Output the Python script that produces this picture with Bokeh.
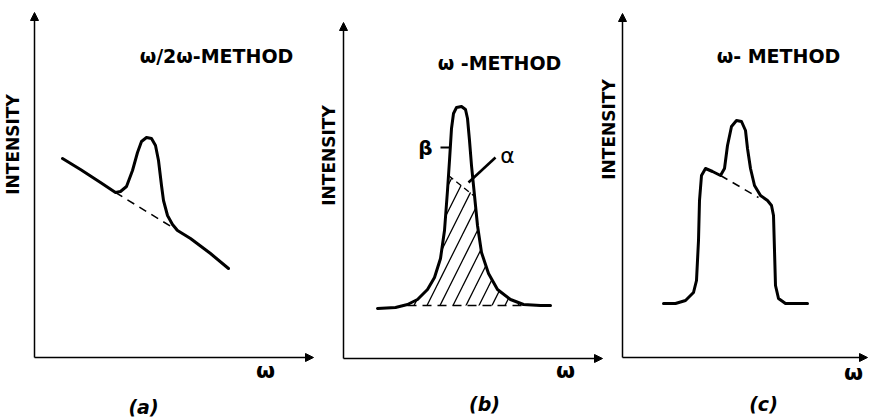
import math
from bokeh.plotting import figure
from bokeh.models import Arrow, NormalHead
from bokeh.core.properties import value
from bokeh.embed import file_html
from bokeh.resources import INLINE

# ---------------- data (panel-local: omega, intensity) ----------------
# panel (a): omega/2omega method
a_omega = [28, 46, 66, 81, 86, 92, 98, 103, 107, 112, 117, 121, 124, 127, 129, 133, 138, 143, 156, 176, 194]
a_int = [199, 188, 175, 165, 166, 171, 187, 205, 216, 220, 219, 212, 197, 172, 157, 142, 133, 127, 119, 104, 89]
a_base_omega = [81, 143]
a_base_int = [165, 127]

# panel (b): omega method, lorentzian-like peak
b_omega = [34, 52, 64, 74, 84, 91, 97, 101, 104, 106, 108, 110, 113, 118, 122, 124, 126, 128, 131, 134, 138, 145, 154, 167, 180, 197, 207]
b_int = [50, 51, 54, 59, 69, 81, 100, 128, 168, 198, 230, 245, 251, 252, 249, 240, 218, 193, 163, 133, 106, 85, 69, 59, 54, 53, 53]
b_hatch_omega = [64, 74, 84, 91, 97, 101, 104, 105, 131, 134, 138, 145, 154, 167, 180]
b_hatch_int = [53, 59, 69, 81, 100, 128, 168, 183, 163, 133, 106, 85, 69, 59, 53]
b_base_omega = [64, 180]
b_base_int = [53, 53]
b_top_omega = [105, 130]
b_top_int = [183, 163]
b_alpha_ptr_omega = [152, 125]
b_alpha_ptr_int = [201, 176]
b_beta_tick_omega = [97, 106]
b_beta_tick_int = [211, 211]

# panel (c): omega method, broad plateau with peak
c_omega = [41, 53, 63, 71, 74, 76, 77, 79, 83, 90, 98, 102, 105, 109, 114, 119, 123, 125, 128, 132, 138, 145, 149, 151, 152, 153, 156, 163, 178, 185]
c_int = [54, 54, 57, 65, 77, 117, 157, 182, 189, 186, 182, 189, 212, 231, 237, 236, 227, 209, 189, 172, 162, 157, 152, 142, 107, 72, 59, 54, 54, 54]
c_base_omega = [98, 136]
c_base_int = [182, 160]

titles = ["ω/2ω-METHOD", "ω -METHOD", "ω- METHOD"]
panel_tags = ["(a)", "(b)", "(c)"]
y_label = "INTENSITY"
x_label = "ω"

# ---------------- layout ----------------
W, H = 869, 417
origins = [(34, 60), (343, 59), (622, 60)]
y_axis_len = [345, 336, 344]
x_axis_len = [279, 259, 245]
title_pos = [(216, 362), (499, 355), (778, 362)]
ylab_pos = [(12, 273), (328, 262), (608, 288)]
xlab_pos = [(265, 47), (565, 47), (853, 45)]
tag_pos = [(143, 11), (484, 14), (763, 14)]

FONT = value("DejaVu Sans")

p = figure(width=W, height=H, x_range=(0, W), y_range=(0, H),
           output_backend="svg", toolbar_location=None,
           min_border=0, border_fill_color="white", background_fill_color="white")
p.axis.visible = False
p.grid.visible = False
p.outline_line_color = None


def sh(vals, off):
    return [v + off for v in vals]


# axes as arrows
for (ox, oy), yl, xl in zip(origins, y_axis_len, x_axis_len):
    p.add_layout(Arrow(end=NormalHead(size=8, fill_color="black", line_color="black"),
                       x_start=ox, y_start=oy, x_end=ox, y_end=oy + yl,
                       line_width=1.5, line_color="black"))
    p.add_layout(Arrow(end=NormalHead(size=8, fill_color="black", line_color="black"),
                       x_start=ox, y_start=oy, x_end=ox + xl, y_end=oy,
                       line_width=1.5, line_color="black"))

# panel a
ox, oy = origins[0]
p.line(sh(a_omega, ox), sh(a_int, oy), line_width=3, line_color="black", line_join="round", line_cap="round")
p.line(sh(a_base_omega, ox), sh(a_base_int, oy), line_width=1.5, line_color="black", line_dash="8 6")

# panel b
ox, oy = origins[1]
p.patch(sh(b_hatch_omega, ox), sh(b_hatch_int, oy), fill_alpha=0, line_alpha=0,
        hatch_pattern="/", hatch_color="black", hatch_scale=26, hatch_weight=1.3)
p.line(sh(b_base_omega, ox), sh(b_base_int, oy), line_width=1.5, line_color="black", line_dash="9 6")
p.line(sh(b_top_omega, ox), sh(b_top_int, oy), line_width=1.4, line_color="black", line_dash="6 4")
p.line(sh(b_omega, ox), sh(b_int, oy), line_width=3, line_color="black", line_join="round", line_cap="round")
p.line(sh(b_alpha_ptr_omega, ox), sh(b_alpha_ptr_int, oy), line_width=2.6, line_color="black")
p.line(sh(b_beta_tick_omega, ox), sh(b_beta_tick_int, oy), line_width=1.8, line_color="black")
p.text(x=[ox + 82], y=[oy + 211], text=["β"], text_font=FONT, text_font_size="20px",
       text_font_style="bold", text_align="center", text_baseline="middle", text_color="black")
p.text(x=[ox + 164], y=[oy + 203], text=["α"], text_font=FONT, text_font_size="22px",
       text_align="center", text_baseline="middle", text_color="black")

# panel c
ox, oy = origins[2]
p.line(sh(c_omega, ox), sh(c_int, oy), line_width=3, line_color="black", line_join="round", line_cap="round")
p.line(sh(c_base_omega, ox), sh(c_base_int, oy), line_width=1.5, line_color="black", line_dash="8 6")

# texts
p.text(x=[t[0] for t in title_pos], y=[t[1] for t in title_pos], text=titles,
       text_font=FONT, text_font_size="19px", text_font_style="bold",
       text_align="center", text_baseline="middle", text_color="black")
p.text(x=[t[0] for t in ylab_pos], y=[t[1] for t in ylab_pos], text=[y_label] * 3,
       angle=math.pi / 2, text_font=FONT, text_font_size="17px", text_font_style="bold",
       text_align="center", text_baseline="middle", text_color="black")
p.text(x=[t[0] for t in xlab_pos], y=[t[1] for t in xlab_pos], text=[x_label] * 3,
       text_font=FONT, text_font_size="22px", text_font_style="bold",
       text_align="center", text_baseline="middle", text_color="black")
p.text(x=[t[0] for t in tag_pos], y=[t[1] for t in tag_pos], text=panel_tags,
       text_font=FONT, text_font_size="19px", text_font_style="bold italic",
       text_align="center", text_baseline="middle", text_color="black")

open("out.html", "w").write(file_html(p, INLINE))
